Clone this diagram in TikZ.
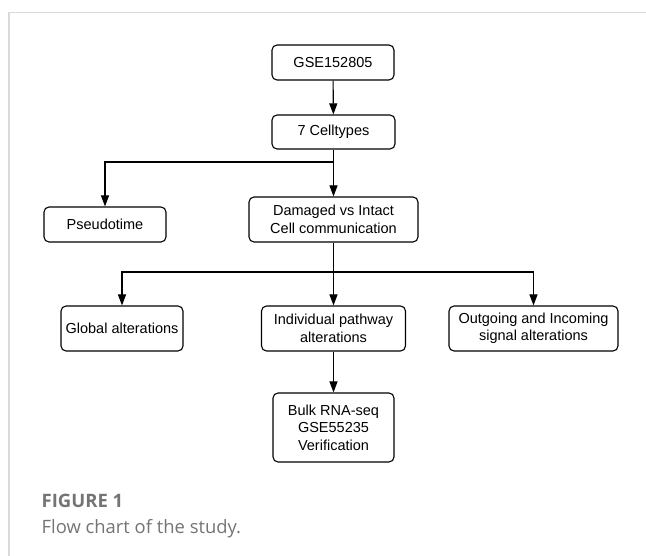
\documentclass[tikz,border=0pt]{standalone}
\usepackage{fontspec}
\setmainfont{Liberation Sans}
\newfontfamily\capfont{Open Sans}
\usetikzlibrary{arrows.meta}
\definecolor{framegray}{HTML}{DADADA}
\definecolor{capgray}{HTML}{747474}
\tikzset{
  flowbox/.style={draw=black, line width=1.1pt, rounded corners=5pt, align=center,
    inner sep=0pt, font=\fontsize{14.5}{17.5}\selectfont},
  conn/.style={draw=black, line width=1.1pt},
  arr/.style={conn, -{Triangle[length=11pt,width=8pt]}},
}
\begin{document}
\begin{tikzpicture}[x=1pt,y=-1pt]
\useasboundingbox (0,0) rectangle (646,556);
\draw[framegray, line width=1.5pt] (9,556) -- (9,12.5) -- (646,12.5);
\node[flowbox, minimum width=122pt, minimum height=35pt] (gse) at (333,62.5) {GSE152805};
\node[flowbox, minimum width=123pt, minimum height=34pt] (cell) at (333.5,132) {7 Celltypes};
\node[flowbox, minimum width=122pt, minimum height=35pt] (pseudo) at (105,224.5) {Pseudotime};
\node[flowbox, minimum width=169pt, minimum height=45pt] (damaged) at (333.5,219.5) {Damaged vs Intact\\Cell communication};
\node[flowbox, minimum width=122pt, minimum height=45pt] (global) at (122,328.5) {Global alterations};
\node[flowbox, minimum width=144pt, minimum height=45pt] (indiv) at (333.5,328.5) {Individual pathway\\alterations};
\node[flowbox, minimum width=169pt, minimum height=45pt] (outgo) at (533.5,328.5) {Outgoing and Incoming\\signal alterations};
\node[flowbox, minimum width=121pt, minimum height=69pt] (bulk) at (333.5,427.5) {Bulk RNA-seq\\GSE55235\\Verification};
\coordinate (b1) at (333.5,162);
\coordinate (b2) at (333.5,272);
\draw[arr] (gse) -- (cell);
\draw[conn] (cell.south) -- (b1);
\draw[arr] (b1) -| (pseudo.north);
\draw[arr] (b1) -- (damaged.north);
\draw[conn] (damaged.south) -- (b2);
\draw[arr] (b2) -| (global.north);
\draw[arr] (b2) -| (outgo.north);
\draw[arr] (b2) -- (indiv.north);
\draw[arr] (indiv) -- (bulk);
\node[anchor=base west, inner sep=0pt, text=capgray, font=\capfont\bfseries\fontsize{18.5}{22}\selectfont] (fig) at (41.5,507) {FIGURE 1};
\node[anchor=base west, inner sep=0pt, text=capgray, font=\capfont\fontsize{18.4}{22}\selectfont] (cap) at (41.5,533) {Flow chart of the study.};
\end{tikzpicture}
\end{document}
